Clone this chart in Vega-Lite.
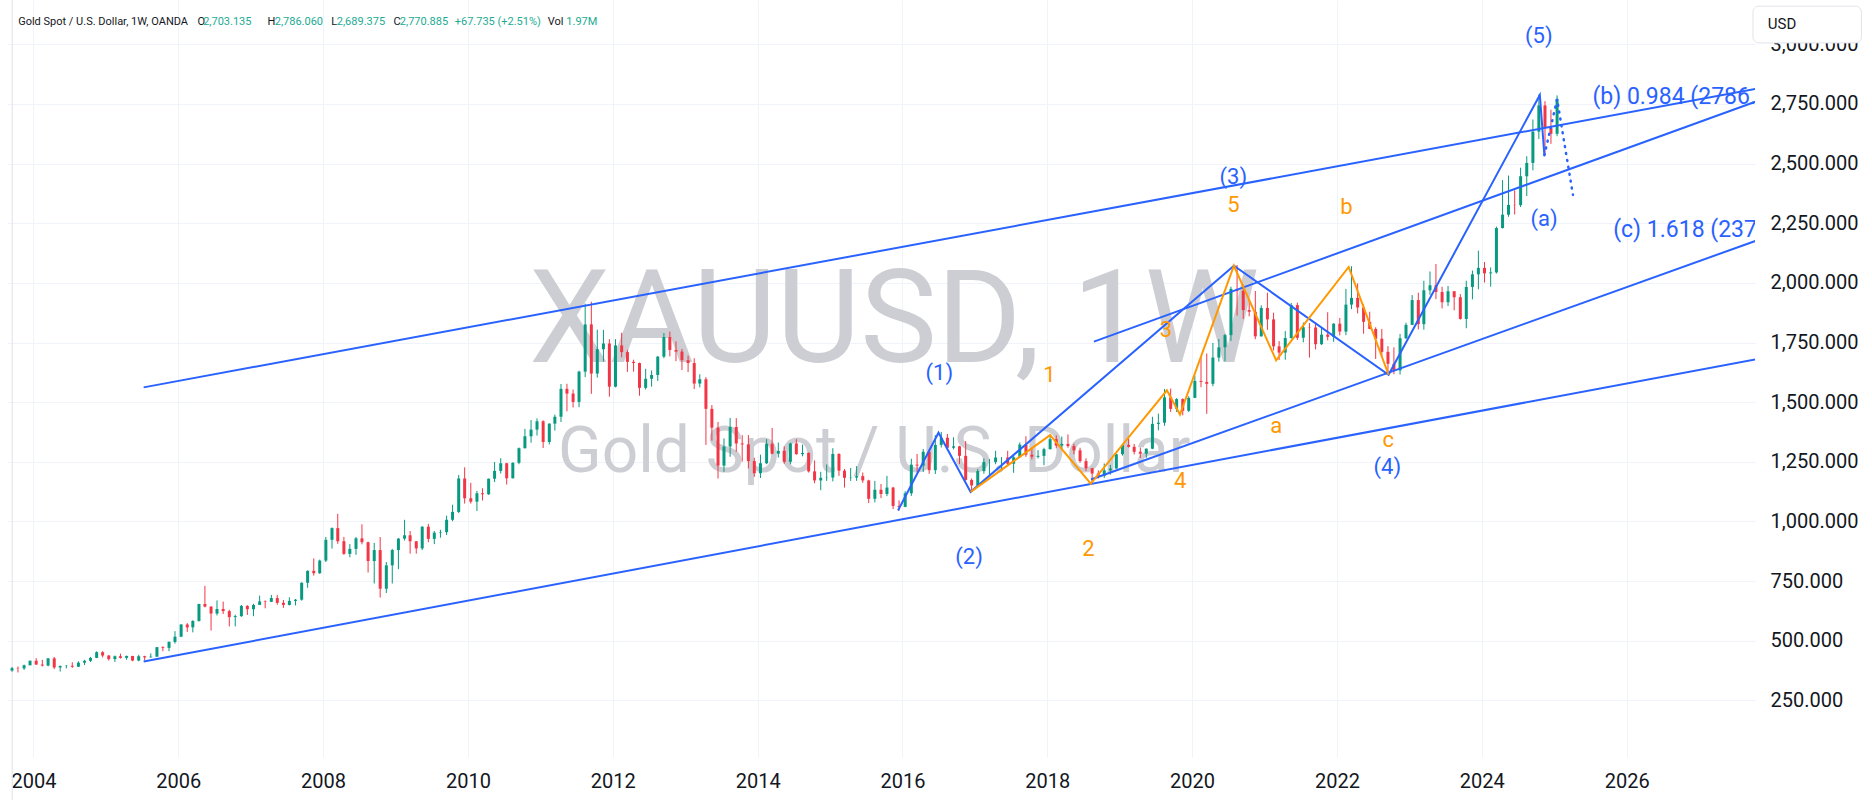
{
"$schema": "https://vega.github.io/schema/vega-lite/v6.json",
"width": 1748, "height": 757,
"autosize": {"type": "none"},
"padding": {"left": 7, "top": 0, "right": 117, "bottom": 43},
"background": "#ffffff",
"config": {"view": {"stroke": null}, "font": "Roboto"},
"datasets": {
"candles": [
{"d":"2003-09-15","o":375,"h":390,"l":370,"c":385},{"d":"2003-10-15","o":385,"h":392,"l":367,"c":384},{"d":"2003-11-15","o":384,"h":400,"l":378,"c":397},{"d":"2003-12-15","o":397,"h":417,"l":397,"c":416},
{"d":"2004-01-15","o":416,"h":427,"l":399,"c":400},{"d":"2004-02-15","o":400,"h":420,"l":392,"c":396},{"d":"2004-03-15","o":396,"h":427,"l":393,"c":426},{"d":"2004-04-15","o":426,"h":432,"l":381,"c":388},{"d":"2004-05-15","o":388,"h":396,"l":371,"c":394},{"d":"2004-06-15","o":394,"h":398,"l":384,"c":395},{"d":"2004-07-15","o":395,"h":410,"l":386,"c":391},{"d":"2004-08-15","o":391,"h":414,"l":390,"c":408},{"d":"2004-09-15","o":408,"h":420,"l":398,"c":416},{"d":"2004-10-15","o":416,"h":432,"l":411,"c":428},{"d":"2004-11-15","o":428,"h":456,"l":427,"c":452},{"d":"2004-12-15","o":452,"h":456,"l":430,"c":438},
{"d":"2005-01-15","o":438,"h":440,"l":417,"c":423},{"d":"2005-02-15","o":423,"h":438,"l":411,"c":435},{"d":"2005-03-15","o":435,"h":446,"l":425,"c":428},{"d":"2005-04-15","o":428,"h":438,"l":420,"c":436},{"d":"2005-05-15","o":436,"h":437,"l":414,"c":417},{"d":"2005-06-15","o":417,"h":441,"l":414,"c":435},{"d":"2005-07-15","o":435,"h":437,"l":418,"c":430},{"d":"2005-08-15","o":430,"h":447,"l":430,"c":433},{"d":"2005-09-15","o":433,"h":474,"l":433,"c":473},{"d":"2005-10-15","o":473,"h":477,"l":456,"c":470},{"d":"2005-11-15","o":470,"h":497,"l":456,"c":495},{"d":"2005-12-15","o":495,"h":540,"l":488,"c":517},
{"d":"2006-01-15","o":517,"h":570,"l":515,"c":568},{"d":"2006-02-15","o":568,"h":574,"l":537,"c":556},{"d":"2006-03-15","o":556,"h":586,"l":535,"c":583},{"d":"2006-04-15","o":583,"h":655,"l":580,"c":654},{"d":"2006-05-15","o":654,"h":730,"l":640,"c":643},{"d":"2006-06-15","o":643,"h":645,"l":543,"c":614},{"d":"2006-07-15","o":614,"h":669,"l":606,"c":633},{"d":"2006-08-15","o":633,"h":664,"l":612,"c":624},{"d":"2006-09-15","o":624,"h":630,"l":560,"c":599},{"d":"2006-10-15","o":599,"h":609,"l":560,"c":603},{"d":"2006-11-15","o":603,"h":650,"l":600,"c":646},{"d":"2006-12-15","o":646,"h":649,"l":608,"c":632},
{"d":"2007-01-15","o":632,"h":655,"l":603,"c":650},{"d":"2007-02-15","o":650,"h":689,"l":650,"c":665},{"d":"2007-03-15","o":665,"h":669,"l":636,"c":663},{"d":"2007-04-15","o":663,"h":692,"l":662,"c":679},{"d":"2007-05-15","o":679,"h":692,"l":651,"c":659},{"d":"2007-06-15","o":659,"h":671,"l":638,"c":650},{"d":"2007-07-15","o":650,"h":682,"l":648,"c":667},{"d":"2007-08-15","o":667,"h":675,"l":648,"c":672},{"d":"2007-09-15","o":672,"h":745,"l":668,"c":743},{"d":"2007-10-15","o":743,"h":795,"l":722,"c":793},{"d":"2007-11-15","o":793,"h":845,"l":773,"c":783},{"d":"2007-12-15","o":783,"h":840,"l":780,"c":836},
{"d":"2008-01-15","o":836,"h":935,"l":830,"c":923},{"d":"2008-02-15","o":923,"h":975,"l":886,"c":972},{"d":"2008-03-15","o":972,"h":1032,"l":906,"c":917},{"d":"2008-04-15","o":917,"h":935,"l":860,"c":864},{"d":"2008-05-15","o":864,"h":905,"l":850,"c":885},{"d":"2008-06-15","o":885,"h":935,"l":860,"c":929},{"d":"2008-07-15","o":929,"h":988,"l":904,"c":913},{"d":"2008-08-15","o":913,"h":915,"l":786,"c":834},{"d":"2008-09-15","o":834,"h":910,"l":740,"c":880},{"d":"2008-10-15","o":880,"h":935,"l":681,"c":718},{"d":"2008-11-15","o":718,"h":830,"l":700,"c":816},{"d":"2008-12-15","o":816,"h":885,"l":740,"c":880},
{"d":"2009-01-15","o":880,"h":930,"l":800,"c":928},{"d":"2009-02-15","o":928,"h":1007,"l":920,"c":942},{"d":"2009-03-15","o":942,"h":960,"l":865,"c":917},{"d":"2009-04-15","o":917,"h":918,"l":865,"c":887},{"d":"2009-05-15","o":887,"h":980,"l":880,"c":978},{"d":"2009-06-15","o":978,"h":990,"l":913,"c":927},{"d":"2009-07-15","o":927,"h":960,"l":905,"c":953},{"d":"2009-08-15","o":953,"h":965,"l":932,"c":955},{"d":"2009-09-15","o":955,"h":1024,"l":943,"c":1007},{"d":"2009-10-15","o":1007,"h":1070,"l":1001,"c":1040},{"d":"2009-11-15","o":1040,"h":1195,"l":1035,"c":1180},{"d":"2009-12-15","o":1180,"h":1227,"l":1075,"c":1097},
{"d":"2010-01-15","o":1097,"h":1162,"l":1075,"c":1083},{"d":"2010-02-15","o":1083,"h":1128,"l":1044,"c":1118},{"d":"2010-03-15","o":1118,"h":1139,"l":1088,"c":1114},{"d":"2010-04-15","o":1114,"h":1180,"l":1111,"c":1179},{"d":"2010-05-15","o":1179,"h":1249,"l":1165,"c":1212},{"d":"2010-06-15","o":1212,"h":1265,"l":1201,"c":1244},{"d":"2010-07-15","o":1244,"h":1246,"l":1155,"c":1181},{"d":"2010-08-15","o":1181,"h":1248,"l":1180,"c":1246},{"d":"2010-09-15","o":1246,"h":1310,"l":1240,"c":1307},{"d":"2010-10-15","o":1307,"h":1388,"l":1306,"c":1357},{"d":"2010-11-15","o":1357,"h":1425,"l":1330,"c":1385},{"d":"2010-12-15","o":1385,"h":1432,"l":1360,"c":1420},
{"d":"2011-01-15","o":1420,"h":1424,"l":1308,"c":1333},{"d":"2011-02-15","o":1333,"h":1411,"l":1323,"c":1410},{"d":"2011-03-15","o":1410,"h":1448,"l":1381,"c":1439},{"d":"2011-04-15","o":1439,"h":1576,"l":1417,"c":1556},{"d":"2011-05-15","o":1556,"h":1577,"l":1462,"c":1536},{"d":"2011-06-15","o":1536,"h":1553,"l":1478,"c":1501},{"d":"2011-07-15","o":1501,"h":1632,"l":1479,"c":1628},{"d":"2011-08-15","o":1628,"h":1913,"l":1605,"c":1826},{"d":"2011-09-15","o":1826,"h":1921,"l":1535,"c":1620},{"d":"2011-10-15","o":1620,"h":1804,"l":1603,"c":1722},{"d":"2011-11-15","o":1722,"h":1803,"l":1670,"c":1746},{"d":"2011-12-15","o":1746,"h":1764,"l":1523,"c":1565},
{"d":"2012-01-15","o":1565,"h":1764,"l":1562,"c":1738},{"d":"2012-02-15","o":1738,"h":1791,"l":1688,"c":1710},{"d":"2012-03-15","o":1710,"h":1720,"l":1627,"c":1669},{"d":"2012-04-15","o":1669,"h":1678,"l":1628,"c":1664},{"d":"2012-05-15","o":1664,"h":1666,"l":1527,"c":1560},{"d":"2012-06-15","o":1560,"h":1640,"l":1553,"c":1598},{"d":"2012-07-15","o":1598,"h":1633,"l":1565,"c":1614},{"d":"2012-08-15","o":1614,"h":1693,"l":1589,"c":1691},{"d":"2012-09-15","o":1691,"h":1790,"l":1684,"c":1773},{"d":"2012-10-15","o":1773,"h":1796,"l":1692,"c":1719},{"d":"2012-11-15","o":1719,"h":1755,"l":1672,"c":1712},{"d":"2012-12-15","o":1712,"h":1723,"l":1635,"c":1676},
{"d":"2013-01-15","o":1676,"h":1695,"l":1626,"c":1664},{"d":"2013-02-15","o":1664,"h":1684,"l":1555,"c":1578},{"d":"2013-03-15","o":1578,"h":1617,"l":1562,"c":1596},{"d":"2013-04-15","o":1596,"h":1605,"l":1321,"c":1472},{"d":"2013-05-15","o":1472,"h":1488,"l":1339,"c":1393},{"d":"2013-06-15","o":1393,"h":1417,"l":1180,"c":1234},{"d":"2013-07-15","o":1234,"h":1348,"l":1208,"c":1314},{"d":"2013-08-15","o":1314,"h":1434,"l":1271,"c":1396},{"d":"2013-09-15","o":1396,"h":1433,"l":1292,"c":1327},{"d":"2013-10-15","o":1327,"h":1362,"l":1251,"c":1323},{"d":"2013-11-15","o":1323,"h":1362,"l":1222,"c":1253},{"d":"2013-12-15","o":1253,"h":1267,"l":1187,"c":1202},
{"d":"2014-01-15","o":1202,"h":1280,"l":1182,"c":1244},{"d":"2014-02-15","o":1244,"h":1345,"l":1240,"c":1326},{"d":"2014-03-15","o":1326,"h":1392,"l":1282,"c":1284},{"d":"2014-04-15","o":1284,"h":1331,"l":1268,"c":1296},{"d":"2014-05-15","o":1296,"h":1315,"l":1242,"c":1250},{"d":"2014-06-15","o":1250,"h":1330,"l":1240,"c":1327},{"d":"2014-07-15","o":1327,"h":1345,"l":1280,"c":1282},{"d":"2014-08-15","o":1282,"h":1322,"l":1273,"c":1287},{"d":"2014-09-15","o":1287,"h":1290,"l":1205,"c":1210},{"d":"2014-10-15","o":1210,"h":1256,"l":1160,"c":1172},{"d":"2014-11-15","o":1172,"h":1208,"l":1131,"c":1183},{"d":"2014-12-15","o":1183,"h":1239,"l":1170,"c":1184},
{"d":"2015-01-15","o":1184,"h":1307,"l":1168,"c":1283},{"d":"2015-02-15","o":1283,"h":1286,"l":1191,"c":1213},{"d":"2015-03-15","o":1213,"h":1220,"l":1142,"c":1183},{"d":"2015-04-15","o":1183,"h":1224,"l":1170,"c":1184},{"d":"2015-05-15","o":1184,"h":1232,"l":1170,"c":1190},{"d":"2015-06-15","o":1190,"h":1205,"l":1162,"c":1172},{"d":"2015-07-15","o":1172,"h":1175,"l":1077,"c":1095},{"d":"2015-08-15","o":1095,"h":1170,"l":1080,"c":1133},{"d":"2015-09-15","o":1133,"h":1157,"l":1098,"c":1115},{"d":"2015-10-15","o":1115,"h":1191,"l":1106,"c":1142},{"d":"2015-11-15","o":1142,"h":1145,"l":1052,"c":1065},{"d":"2015-12-15","o":1065,"h":1088,"l":1046,"c":1061},
{"d":"2016-01-15","o":1061,"h":1127,"l":1060,"c":1118},{"d":"2016-02-15","o":1118,"h":1263,"l":1107,"c":1238},{"d":"2016-03-15","o":1238,"h":1283,"l":1208,"c":1234},{"d":"2016-04-15","o":1234,"h":1304,"l":1207,"c":1292},{"d":"2016-05-15","o":1292,"h":1303,"l":1200,"c":1215},{"d":"2016-06-15","o":1215,"h":1362,"l":1199,"c":1321},{"d":"2016-07-15","o":1321,"h":1375,"l":1310,"c":1351},{"d":"2016-08-15","o":1351,"h":1367,"l":1301,"c":1309},{"d":"2016-09-15","o":1309,"h":1353,"l":1302,"c":1315},{"d":"2016-10-15","o":1315,"h":1317,"l":1241,"c":1275},{"d":"2016-11-15","o":1275,"h":1337,"l":1171,"c":1174},{"d":"2016-12-15","o":1174,"h":1180,"l":1123,"c":1151},
{"d":"2017-01-15","o":1151,"h":1220,"l":1146,"c":1211},{"d":"2017-02-15","o":1211,"h":1264,"l":1200,"c":1249},{"d":"2017-03-15","o":1249,"h":1262,"l":1195,"c":1249},{"d":"2017-04-15","o":1249,"h":1296,"l":1240,"c":1268},{"d":"2017-05-15","o":1268,"h":1270,"l":1214,"c":1268},{"d":"2017-06-15","o":1268,"h":1296,"l":1236,"c":1242},{"d":"2017-07-15","o":1242,"h":1274,"l":1204,"c":1269},{"d":"2017-08-15","o":1269,"h":1331,"l":1268,"c":1322},{"d":"2017-09-15","o":1322,"h":1357,"l":1271,"c":1280},{"d":"2017-10-15","o":1280,"h":1306,"l":1260,"c":1271},{"d":"2017-11-15","o":1271,"h":1299,"l":1264,"c":1275},{"d":"2017-12-15","o":1275,"h":1309,"l":1236,"c":1303},
{"d":"2018-01-15","o":1303,"h":1366,"l":1302,"c":1345},{"d":"2018-02-15","o":1345,"h":1361,"l":1307,"c":1318},{"d":"2018-03-15","o":1318,"h":1356,"l":1303,"c":1325},{"d":"2018-04-15","o":1325,"h":1365,"l":1309,"c":1316},{"d":"2018-05-15","o":1316,"h":1326,"l":1282,"c":1298},{"d":"2018-06-15","o":1298,"h":1309,"l":1246,"c":1253},{"d":"2018-07-15","o":1253,"h":1265,"l":1211,"c":1223},{"d":"2018-08-15","o":1223,"h":1225,"l":1160,"c":1201},{"d":"2018-09-15","o":1201,"h":1214,"l":1180,"c":1191},{"d":"2018-10-15","o":1191,"h":1243,"l":1182,"c":1214},{"d":"2018-11-15","o":1214,"h":1237,"l":1196,"c":1222},{"d":"2018-12-15","o":1222,"h":1284,"l":1221,"c":1282},
{"d":"2019-01-15","o":1282,"h":1326,"l":1276,"c":1321},{"d":"2019-02-15","o":1321,"h":1346,"l":1310,"c":1313},{"d":"2019-03-15","o":1313,"h":1325,"l":1281,"c":1292},{"d":"2019-04-15","o":1292,"h":1310,"l":1266,"c":1284},{"d":"2019-05-15","o":1284,"h":1306,"l":1267,"c":1305},{"d":"2019-06-15","o":1305,"h":1439,"l":1303,"c":1409},{"d":"2019-07-15","o":1409,"h":1452,"l":1382,"c":1414},{"d":"2019-08-15","o":1414,"h":1555,"l":1401,"c":1520},{"d":"2019-09-15","o":1520,"h":1557,"l":1459,"c":1472},{"d":"2019-10-15","o":1472,"h":1517,"l":1459,"c":1513},{"d":"2019-11-15","o":1513,"h":1516,"l":1445,"c":1464},{"d":"2019-12-15","o":1464,"h":1525,"l":1459,"c":1518},
{"d":"2020-01-15","o":1518,"h":1611,"l":1517,"c":1589},{"d":"2020-02-15","o":1589,"h":1689,"l":1563,"c":1585},{"d":"2020-03-15","o":1585,"h":1704,"l":1451,"c":1577},{"d":"2020-04-15","o":1577,"h":1748,"l":1567,"c":1687},{"d":"2020-05-15","o":1687,"h":1765,"l":1670,"c":1730},{"d":"2020-06-15","o":1730,"h":1786,"l":1671,"c":1781},{"d":"2020-07-15","o":1781,"h":1984,"l":1757,"c":1975},{"d":"2020-08-15","o":1975,"h":2075,"l":1863,"c":1967},{"d":"2020-09-15","o":1967,"h":1992,"l":1849,"c":1886},{"d":"2020-10-15","o":1886,"h":1933,"l":1860,"c":1879},{"d":"2020-11-15","o":1879,"h":1966,"l":1764,"c":1776},{"d":"2020-12-15","o":1776,"h":1906,"l":1775,"c":1895},
{"d":"2021-01-15","o":1895,"h":1959,"l":1803,"c":1847},{"d":"2021-02-15","o":1847,"h":1875,"l":1717,"c":1734},{"d":"2021-03-15","o":1734,"h":1756,"l":1677,"c":1708},{"d":"2021-04-15","o":1708,"h":1798,"l":1678,"c":1769},{"d":"2021-05-15","o":1769,"h":1916,"l":1766,"c":1907},{"d":"2021-06-15","o":1907,"h":1917,"l":1761,"c":1770},{"d":"2021-07-15","o":1770,"h":1834,"l":1751,"c":1814},{"d":"2021-08-15","o":1814,"h":1832,"l":1687,"c":1813},{"d":"2021-09-15","o":1813,"h":1834,"l":1721,"c":1743},{"d":"2021-10-15","o":1743,"h":1814,"l":1740,"c":1783},{"d":"2021-11-15","o":1783,"h":1877,"l":1759,"c":1774},{"d":"2021-12-15","o":1774,"h":1831,"l":1753,"c":1829},
{"d":"2022-01-15","o":1829,"h":1853,"l":1780,"c":1796},{"d":"2022-02-15","o":1796,"h":1975,"l":1781,"c":1909},{"d":"2022-03-15","o":1909,"h":2070,"l":1890,"c":1937},{"d":"2022-04-15","o":1937,"h":1998,"l":1872,"c":1897},{"d":"2022-05-15","o":1897,"h":1910,"l":1787,"c":1837},{"d":"2022-06-15","o":1837,"h":1879,"l":1806,"c":1807},{"d":"2022-07-15","o":1807,"h":1814,"l":1681,"c":1766},{"d":"2022-08-15","o":1766,"h":1807,"l":1688,"c":1711},{"d":"2022-09-15","o":1711,"h":1735,"l":1615,"c":1661},{"d":"2022-10-15","o":1661,"h":1730,"l":1617,"c":1633},{"d":"2022-11-15","o":1633,"h":1786,"l":1616,"c":1768},{"d":"2022-12-15","o":1768,"h":1833,"l":1765,"c":1824},
{"d":"2023-01-15","o":1824,"h":1949,"l":1823,"c":1928},{"d":"2023-02-15","o":1928,"h":1959,"l":1805,"c":1827},{"d":"2023-03-15","o":1827,"h":2009,"l":1804,"c":1969},{"d":"2023-04-15","o":1969,"h":2048,"l":1950,"c":1990},{"d":"2023-05-15","o":1990,"h":2079,"l":1932,"c":1962},{"d":"2023-06-15","o":1962,"h":1984,"l":1893,"c":1919},{"d":"2023-07-15","o":1919,"h":1987,"l":1903,"c":1965},{"d":"2023-08-15","o":1965,"h":1966,"l":1885,"c":1940},{"d":"2023-09-15","o":1940,"h":1953,"l":1846,"c":1849},{"d":"2023-10-15","o":1849,"h":2009,"l":1810,"c":1983},{"d":"2023-11-15","o":1983,"h":2052,"l":1931,"c":2036},{"d":"2023-12-15","o":2036,"h":2135,"l":1973,"c":2063},
{"d":"2024-01-15","o":2063,"h":2088,"l":2002,"c":2040},{"d":"2024-02-15","o":2040,"h":2065,"l":1984,"c":2044},{"d":"2024-03-15","o":2044,"h":2236,"l":2039,"c":2230},{"d":"2024-04-15","o":2230,"h":2431,"l":2228,"c":2286},{"d":"2024-05-15","o":2286,"h":2450,"l":2277,"c":2327},{"d":"2024-06-15","o":2327,"h":2388,"l":2287,"c":2326},{"d":"2024-07-15","o":2326,"h":2483,"l":2318,"c":2447},{"d":"2024-08-15","o":2447,"h":2531,"l":2364,"c":2503},{"d":"2024-09-15","o":2503,"h":2685,"l":2472,"c":2634},{"d":"2024-10-15","o":2634,"h":2790,"l":2603,"c":2744},{"d":"2024-11-15","o":2744,"h":2762,"l":2537,"c":2650},{"d":"2024-12-15","o":2650,"h":2726,"l":2583,"c":2625},
{"d":"2025-01-15","o":2625,"h":2786,"l":2615,"c":2771}
]
},
"encoding": {
"x": {"field": "d", "type": "temporal", "title": null,
 "scale": {"domain": [{"year": 2003, "month": 9, "date": 15}, {"year": 2027, "month": 9, "date": 15}]},
 "axis": {"format": "%Y", "tickCount": {"interval": "year", "step": 2}, "grid": true, "gridColor": "#f0f3fa", "domain": false, "ticks": false, "tickSize": 0, "labelFontSize": 20, "labelFont": "Roboto", "labelColor": "#131722", "labelPadding": 14, "labelFlush": false, "labelOverlap": false}}
},
"layer": [
{"data": {"values": [{"d": "2015-11-20", "p": 1670, "t": "XAUUSD, 1W"}]},
 "mark": {"type": "text", "font": "Roboto", "fontSize": 129, "align": "center", "baseline": "alphabetic", "color": "#cdced3"},
 "encoding": {"y": {"field": "p", "type": "quantitative", "title": null, "scale": {"domain": [12.6, 3185.9], "nice": false, "zero": false},
   "axis": {"orient": "right", "values": [250,500,750,1000,1250,1500,1750,2000,2250,2500,2750,3000], "format": ",.3f", "grid": true, "gridColor": "#f0f3fa", "domain": false, "ticks": false, "tickSize": 0, "labelPadding": 15, "labelFontSize": 20, "labelFont": "Roboto", "labelColor": "#131722"}},
  "text": {"field": "t"}}},
{"data": {"values": [{"d": "2015-08-12", "p": 1209, "t": "Gold Spot / U.S. Dollar"}]},
 "mark": {"type": "text", "font": "Roboto", "fontSize": 64, "align": "center", "baseline": "alphabetic", "color": "#cdced3"},
 "encoding": {"y": {"field": "p", "type": "quantitative", "title": null, "scale": {"domain": [12.6, 3185.9], "nice": false, "zero": false}}, "text": {"field": "t"}}},
{"data": {"values": [{"d": "2003-09-16", "p": -300, "p2": 3300}]},
 "mark": {"type": "rule", "color": "#e0e3eb", "strokeWidth": 1, "clip": false},
 "encoding": {"y": {"field": "p", "type": "quantitative", "title": null, "scale": {"domain": [12.6, 3185.9], "nice": false, "zero": false}}, "y2": {"field": "p2"}}},
{"data": {"name": "candles"},
 "mark": {"type": "rule", "strokeWidth": 1},
 "encoding": {"y": {"field": "l", "type": "quantitative", "title": null, "scale": {"domain": [12.6, 3185.9], "nice": false, "zero": false}}, "y2": {"field": "h"},
  "color": {"condition": {"test": "datum.c >= datum.o", "value": "#089981"}, "value": "#f23645"}}},
{"data": {"name": "candles"},
 "mark": {"type": "bar", "size": 3},
 "encoding": {"y": {"field": "o", "type": "quantitative", "title": null, "scale": {"domain": [12.6, 3185.9], "nice": false, "zero": false}}, "y2": {"field": "c"},
  "color": {"condition": {"test": "datum.c >= datum.o", "value": "#089981"}, "value": "#f23645"}}},
{"data": {"values": [
 {"g": "A", "d": "2005-07-10", "p": 1562}, {"g": "A", "d": "2028-01-01", "p": 2826},
 {"g": "D", "d": "2005-07-10", "p": 413}, {"g": "D", "d": "2028-01-01", "p": 1692},
 {"g": "B", "d": "2018-08-24", "p": 1754}, {"g": "B", "d": "2028-01-01", "p": 2784},
 {"g": "C", "d": "2018-08-09", "p": 1176}, {"g": "C", "d": "2028-01-01", "p": 2200},
 {"g": "W", "d": "2015-12-10", "p": 1046}, {"g": "W", "d": "2016-07-01", "p": 1372}, {"g": "W", "d": "2016-12-10", "p": 1124}, {"g": "W", "d": "2020-07-30", "p": 2072}, {"g": "W", "d": "2022-09-18", "p": 1615}, {"g": "W", "d": "2024-10-20", "p": 2788}, {"g": "W", "d": "2024-11-12", "p": 2535}
 ]},
 "mark": {"type": "line", "color": "#2962ff", "strokeWidth": 2, "clip": true},
 "encoding": {"y": {"field": "p", "type": "quantitative", "title": null, "scale": {"domain": [12.6, 3185.9], "nice": false, "zero": false}}, "detail": {"field": "g"}}},
{"data": {"values": [
 {"d": "2016-12-10", "p": 1124}, {"d": "2018-01-15", "p": 1362}, {"d": "2018-08-08", "p": 1158}, {"d": "2019-08-27", "p": 1550}, {"d": "2019-11-01", "p": 1448}, {"d": "2020-07-30", "p": 2072}, {"d": "2021-02-28", "p": 1675}, {"d": "2022-03-01", "p": 2067}, {"d": "2022-09-18", "p": 1615}
 ]},
 "mark": {"type": "line", "color": "#ff9800", "strokeWidth": 2, "clip": true},
 "encoding": {"y": {"field": "p", "type": "quantitative", "title": null, "scale": {"domain": [12.6, 3185.9], "nice": false, "zero": false}}}},
{"data": {"values": [{"d": "2024-11-12", "p": 2535}, {"d": "2025-01-15", "p": 2770}, {"d": "2025-04-05", "p": 2369}]},
 "mark": {"type": "line", "color": "#2962ff", "strokeWidth": 2.5, "strokeDash": [1, 6], "strokeCap": "round", "clip": true},
 "encoding": {"y": {"field": "p", "type": "quantitative", "title": null, "scale": {"domain": [12.6, 3185.9], "nice": false, "zero": false}}}},
{"data": {"values": [
 {"d": "2016-07-05", "p": 1622, "t": "(1)"}, {"d": "2016-12-02", "p": 851, "t": "(2)"}, {"d": "2020-07-27", "p": 2445, "t": "(3)"}, {"d": "2022-09-12", "p": 1228, "t": "(4)"}, {"d": "2024-10-15", "p": 3036, "t": "(5)"}, {"d": "2024-11-10", "p": 2266, "t": "(a)"}
 ]},
 "mark": {"type": "text", "font": "Roboto", "fontSize": 22, "align": "center", "baseline": "middle", "color": "#2962ff", "clip": true},
 "encoding": {"y": {"field": "p", "type": "quantitative", "title": null, "scale": {"domain": [12.6, 3185.9], "nice": false, "zero": false}}, "text": {"field": "t"}}},
{"data": {"values": [
 {"d": "2025-07-12", "p": 2780, "t": "(b) 0.984 (2786.060)"}, {"d": "2025-10-25", "p": 2220, "t": "(c) 1.618 (2371.600)"}
 ]},
 "mark": {"type": "text", "font": "Roboto", "fontSize": 23, "align": "left", "baseline": "middle", "color": "#2962ff", "clip": true},
 "encoding": {"y": {"field": "p", "type": "quantitative", "title": null, "scale": {"domain": [12.6, 3185.9], "nice": false, "zero": false}}, "text": {"field": "t"}}},
{"data": {"values": [
 {"d": "2018-01-12", "p": 1616, "t": "1"}, {"d": "2018-07-27", "p": 883, "t": "2"}, {"d": "2019-08-22", "p": 1804, "t": "3"}, {"d": "2019-11-02", "p": 1170, "t": "4"}, {"d": "2020-07-27", "p": 2325, "t": "5"}, {"d": "2021-02-28", "p": 1400, "t": "a"}, {"d": "2022-02-17", "p": 2320, "t": "b"}, {"d": "2022-09-16", "p": 1343, "t": "c"}
 ]},
 "mark": {"type": "text", "font": "Roboto", "fontSize": 22, "align": "center", "baseline": "middle", "color": "#ff9800", "clip": true},
 "encoding": {"y": {"field": "p", "type": "quantitative", "title": null, "scale": {"domain": [12.6, 3185.9], "nice": false, "zero": false}}, "text": {"field": "t"}}},
{"data": {"values": [
 {"d": "2003-10-16", "p": 3095, "t": "Gold Spot / U.S. Dollar, 1W, OANDA"}, {"d": "2006-04-07", "p": 3095, "t": "O"}, {"d": "2007-03-27", "p": 3095, "t": "H"}, {"d": "2008-02-11", "p": 3095, "t": "L"}, {"d": "2008-12-21", "p": 3095, "t": "C"}, {"d": "2011-02-07", "p": 3095, "t": "Vol"}
 ]},
 "mark": {"type": "text", "font": "Roboto", "fontSize": 11, "align": "left", "baseline": "middle", "color": "#131722"},
 "encoding": {"y": {"field": "p", "type": "quantitative", "title": null, "scale": {"domain": [12.6, 3185.9], "nice": false, "zero": false}}, "text": {"field": "t"}}},
{"data": {"values": [
 {"d": "2006-05-06", "p": 3095, "t": "2,703.135"}, {"d": "2007-05-02", "p": 3095, "t": "2,786.060"}, {"d": "2008-03-10", "p": 3095, "t": "2,689.375"}, {"d": "2009-01-22", "p": 3095, "t": "2,770.885"}, {"d": "2009-10-26", "p": 3095, "t": "+67.735 (+2.51%)"}, {"d": "2011-05-12", "p": 3095, "t": "1.97M"}
 ]},
 "mark": {"type": "text", "font": "Roboto", "fontSize": 11, "align": "left", "baseline": "middle", "color": "#22ab94"},
 "encoding": {"y": {"field": "p", "type": "quantitative", "title": null, "scale": {"domain": [12.6, 3185.9], "nice": false, "zero": false}}, "text": {"field": "t"}}},
{"data": {"values": [{"d": "2027-09-30", "d2": "2029-03-30", "p": 3160, "p2": 3006}]},
 "mark": {"type": "rect", "fill": "#ffffff", "stroke": "#e0e3eb", "strokeWidth": 1, "cornerRadius": 6, "clip": false},
 "encoding": {"x2": {"field": "d2"}, "y": {"field": "p", "type": "quantitative", "title": null, "scale": {"domain": [12.6, 3185.9], "nice": false, "zero": false}}, "y2": {"field": "p2"}}},
{"data": {"values": [{"d": "2027-12-14", "p": 3085, "t": "USD"}]},
 "mark": {"type": "text", "font": "Roboto", "fontSize": 15, "align": "left", "baseline": "middle", "color": "#131722", "clip": false},
 "encoding": {"y": {"field": "p", "type": "quantitative", "title": null, "scale": {"domain": [12.6, 3185.9], "nice": false, "zero": false}}, "text": {"field": "t"}}}
]
}
